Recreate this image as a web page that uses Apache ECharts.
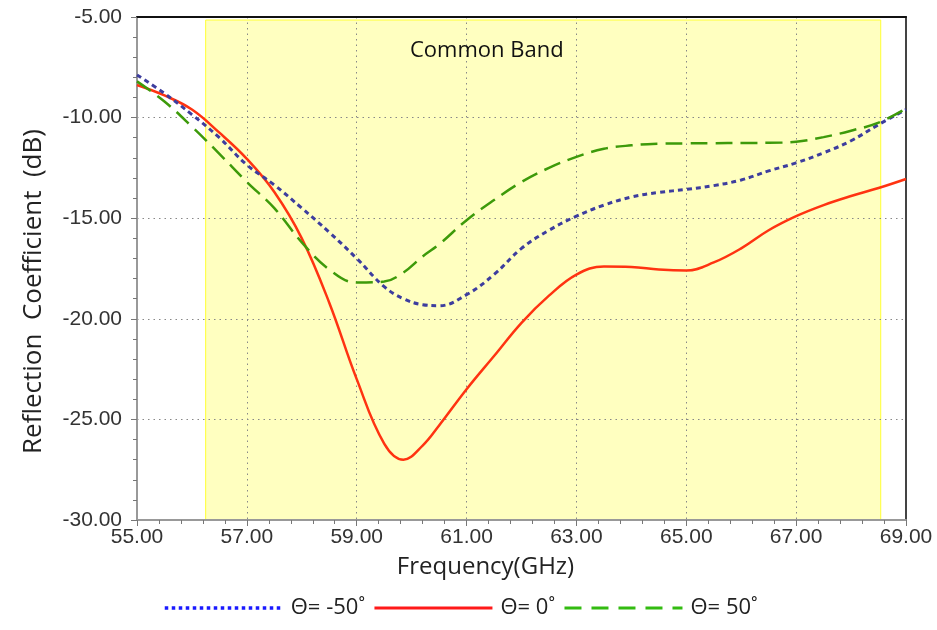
<!DOCTYPE html>
<html>
<head>
<meta charset="utf-8">
<script src="https://cdn.jsdelivr.net/npm/echarts@6/dist/echarts.min.js"></script>
<style>
html,body{margin:0;padding:0;background:#fff;}
#chart{width:937px;height:630px;}
</style>
</head>
<body>
<div id="chart"></div>
<script>
// ---- data ----
var freqGHz = [55, 55.5, 56, 56.5, 57, 57.5, 58, 58.5, 59, 59.5, 59.85, 60.2, 60.5, 61, 61.5, 62, 62.5, 63, 63.5, 64, 64.5, 65, 65.5, 66, 66.5, 67, 67.5, 68, 68.5, 69];
var thetaMinus50 = [-7.88, -8.8, -9.85, -11.0, -12.35, -13.35, -14.5, -15.7, -17.0, -18.4, -19.0, -19.3, -19.35, -18.8, -17.8, -16.5, -15.6, -14.9, -14.35, -13.95, -13.72, -13.57, -13.38, -13.1, -12.65, -12.25, -11.75, -11.15, -10.35, -9.6];
var theta0 = [-8.38, -8.9, -9.6, -10.75, -12.05, -13.7, -16.0, -19.2, -23.0, -26.2, -27.0, -26.3, -25.3, -23.5, -21.85, -20.2, -18.85, -17.8, -17.4, -17.42, -17.55, -17.6, -17.2, -16.5, -15.6, -14.9, -14.35, -13.9, -13.5, -13.05];
var theta50 = [-8.2, -9.2, -10.45, -11.8, -13.2, -14.5, -16.2, -17.55, -18.2, -18.15, -17.7, -16.9, -16.3, -15.1, -14.1, -13.2, -12.5, -11.95, -11.55, -11.38, -11.3, -11.28, -11.27, -11.26, -11.25, -11.2, -10.97, -10.65, -10.25, -9.55];
var seriesNames = ['\u0398= -50\u02DA', '\u0398= 0\u02DA', '\u0398= 50\u02DA'];
var commonBand = [56.25, 68.54];
var bandTop = -5.15;
var bandLabel = 'Common Band';

function pairs(xs, ys){ return xs.map(function(x,i){ return [x, ys[i]]; }); }

var tickFont = '"Liberation Sans", Arial, sans-serif';
var nameFont = '"Open Sans", sans-serif';
var chart = echarts.init(document.getElementById('chart'), null, {renderer:'canvas'});
var option = {
  animation: false,
  backgroundColor: '#fff',
  grid: {left: 137, right: 31, top: 17, bottom: 110, containLabel: false},
  legend: {
    top: 592, left: 158,
    itemWidth: 118, itemHeight: 14, itemGap: 8,
    textStyle: {fontFamily: nameFont, fontSize: 22, color: '#222', padding: [0, 0, 0, 3]},
    data: [
      {name: seriesNames[0], itemStyle: {opacity: 0}, lineStyle: {color: '#1a1aff', width: 3.5, type: [3.5, 3.5]}},
      {name: seriesNames[1], itemStyle: {opacity: 0}, lineStyle: {color: '#ff1a1a', width: 3, type: 'solid'}},
      {name: seriesNames[2], itemStyle: {opacity: 0}, lineStyle: {color: '#33bb11', width: 3, type: [17, 10]}}
    ]
  },
  xAxis: [{
    type: 'value', min: 55, max: 69, interval: 2,
    name: 'Frequency(GHz)', nameLocation: 'middle', nameGap: 35,
    nameTextStyle: {fontFamily: nameFont, fontSize: 24, color: '#222', padding: [0, 72, 0, 0]},
    axisLine: {show: true, onZero: false, lineStyle: {color: '#999', width: 2}},
    axisTick: {show: true, length: 6, lineStyle: {color: '#777'}},
    minorTick: {show: true, splitNumber: 5, length: 4, lineStyle: {color: '#777'}},
    axisLabel: {fontFamily: tickFont, fontSize: 21, color: '#333', margin: 7,
      formatter: function(v){ return v.toFixed(2); }},
    splitLine: {show: true, lineStyle: {color: '#888', type: [1.5, 4], width: 1}}
  }, {
    type: 'value', min: 55, max: 69, position: 'top',
    axisLine: {show: true, onZero: false, lineStyle: {color: '#111', width: 2}},
    axisTick: {show: false}, axisLabel: {show: false}, splitLine: {show: false}
  }],
  yAxis: [{
    type: 'value', min: -30, max: -5, interval: 5,
    name: 'Reflection  Coefficient  (dB)', nameLocation: 'middle', nameGap: 90, nameRotate: 90,
    nameTextStyle: {fontFamily: nameFont, fontSize: 26, color: '#222', padding: [0, 46, 0, 0]},
    axisLine: {show: true, onZero: false, lineStyle: {color: '#999', width: 2}},
    axisTick: {show: true, length: 6, lineStyle: {color: '#777'}},
    minorTick: {show: true, splitNumber: 5, length: 4, lineStyle: {color: '#777'}},
    axisLabel: {fontFamily: tickFont, fontSize: 21, color: '#333', margin: 15,
      formatter: function(v){ return v.toFixed(2); }},
    splitLine: {show: true, lineStyle: {color: '#888', type: [1.5, 4], width: 1}}
  }, {
    type: 'value', min: -30, max: -5, position: 'right',
    axisLine: {show: true, onZero: false, lineStyle: {color: '#444', width: 2}},
    axisTick: {show: false}, axisLabel: {show: false}, splitLine: {show: false}
  }],
  graphic: [{
    type: 'text', left: 410, top: 40, z: 100,
    style: {text: bandLabel, font: '22px "Open Sans", sans-serif', fill: '#111'}
  }],
  series: [{
    name: 'band', type: 'line', data: [], z: -1, silent: true,
    markArea: {
      silent: true, z: -1,
      itemStyle: {color: '#ffffc0', borderColor: '#ffff33', borderWidth: 1},
      data: [[{coord: [commonBand[0], bandTop]}, {coord: [commonBand[1], -30]}]]
    }
  }, {
    name: seriesNames[0], type: 'line', smooth: 0.4, symbol: 'none', z: 4,
    data: pairs(freqGHz, thetaMinus50),
    itemStyle: {color: '#1a1aff'},
    lineStyle: {color: '#3d3d9e', width: 3, type: [5, 4]}
  }, {
    name: seriesNames[1], type: 'line', smooth: 0.4, symbol: 'none', z: 3,
    data: pairs(freqGHz, theta0),
    itemStyle: {color: '#ff1a1a'},
    lineStyle: {color: '#ff3311', width: 2.5, type: 'solid'}
  }, {
    name: seriesNames[2], type: 'line', smooth: 0.4, symbol: 'none', z: 5,
    data: pairs(freqGHz, theta50),
    itemStyle: {color: '#33bb11'},
    lineStyle: {color: '#3d9a0a', width: 2.5, type: [17, 8]}
  }]
};
chart.setOption(option);
</script>
</body>
</html>
